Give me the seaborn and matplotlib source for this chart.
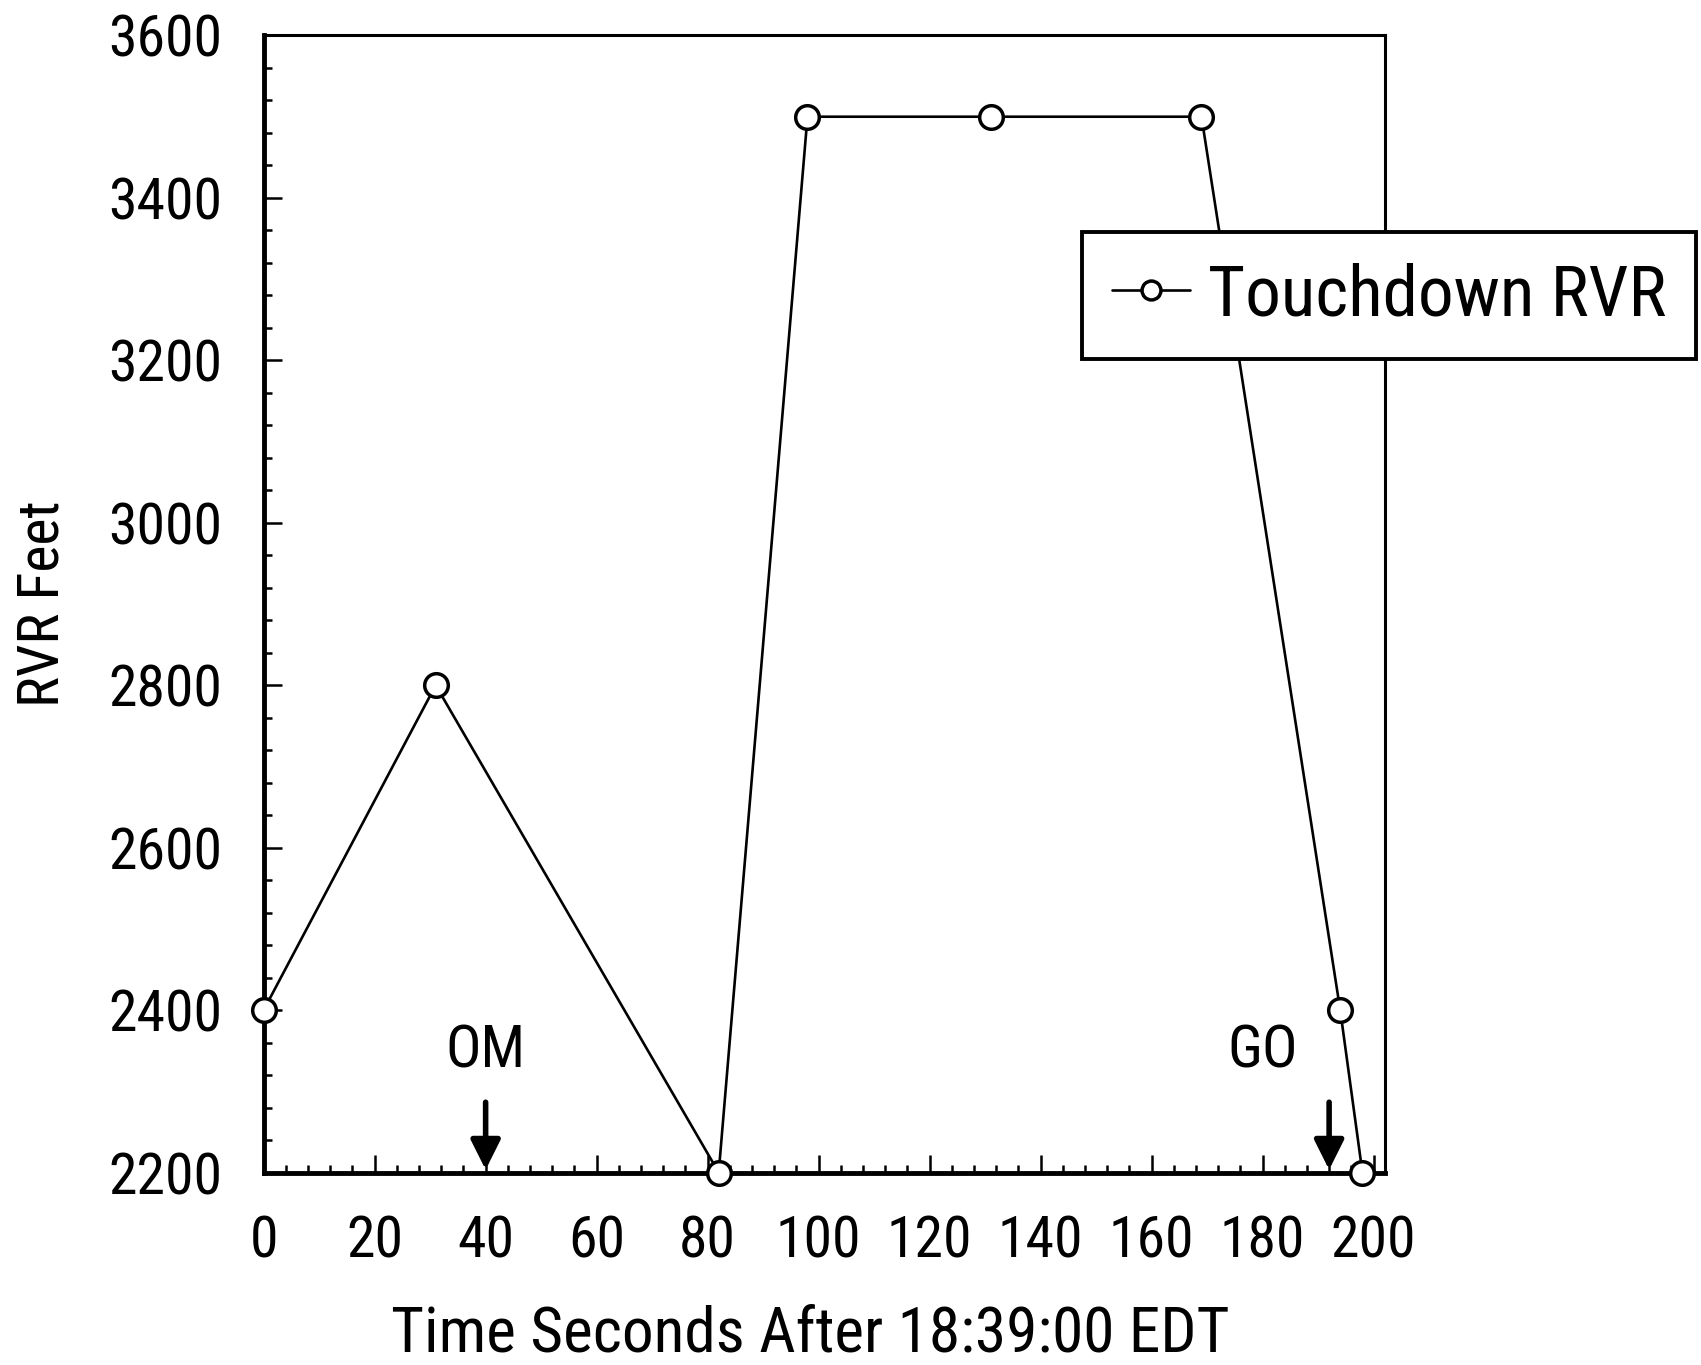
import matplotlib
matplotlib.use('Agg')
import matplotlib.pyplot as plt
import seaborn as sns
import pandas as pd
from matplotlib import font_manager
from matplotlib.font_manager import FontProperties
from matplotlib.textpath import TextPath
from matplotlib.ticker import MultipleLocator

# values
time_s = [0, 31, 82, 98, 131, 169, 194, 198]
rvr_ft = [2400, 2800, 2200, 3500, 3500, 3500, 2400, 2200]
series_name = 'Touchdown RVR'

# event markers along the time axis
event_names = ['OM', 'GO']
event_text_x = [40, 180]
event_arrow_x = [40, 192]

x_title = 'Time Seconds After 18:39:00 EDT'
y_title = 'RVR Feet'


def pick_narrow_font():
    # the original uses a tall, narrow plotter font; take a condensed face if one is there
    wanted = ['Liberation Sans Narrow', 'Roboto Condensed', 'Open Sans Condensed',
              'Noto Sans', 'DejaVu Sans', 'Roboto', 'Open Sans']
    for fam in wanted:
        for f in font_manager.fontManager.ttflist:
            narrow = 'condensed' in str(f.stretch) or 'narrow' in f.fname.lower() \
                or 'condensed' in f.fname.lower()
            if f.name == fam and f.style == 'normal' and narrow:
                return fam, f.stretch
    return 'DejaVu Sans', 'normal'


def fit_size(text, width_px, prop, dpi=100):
    # font size (pt) that makes the text about width_px wide
    w = TextPath((0, 0), text, size=10, prop=prop).get_extents().width
    return 10 * width_px / (w * dpi / 72)


sns.set_theme(style='ticks')
font_name, font_stretch = pick_narrow_font()
plt.rcParams['font.family'] = [font_name, 'DejaVu Sans']
plt.rcParams['font.stretch'] = font_stretch
plt.rcParams['text.color'] = 'black'
plt.rcParams['axes.labelcolor'] = 'black'
prop = FontProperties(family=font_name, stretch=font_stretch)

tick_fs = fit_size('3600', 108, prop)
xlab_fs = fit_size(x_title, 835, prop)
ylab_fs = fit_size(y_title, 200, prop)
leg_fs = fit_size(series_name, 455, prop)
ev_fs = fit_size('OM', 72, prop)

df = pd.DataFrame({'time': time_s, 'rvr': rvr_ft, 'series': series_name})

fig = plt.figure(figsize=(17.01, 13.65), dpi=100)
ax = fig.add_axes([0.155, 0.141, 0.659, 0.833])

sns.lineplot(data=df, x='time', y='rvr', hue='series', palette=['black'],
             marker='o', markersize=17, markerfacecolor='white',
             markeredgecolor='black', markeredgewidth=2.5, linewidth=1.9,
             clip_on=False, ax=ax, zorder=5)

ax.set_xlim(0, 202)
ax.set_ylim(2200, 3600)
ax.xaxis.set_major_locator(MultipleLocator(20))
ax.xaxis.set_minor_locator(MultipleLocator(4))
ax.yaxis.set_major_locator(MultipleLocator(200))
ax.yaxis.set_minor_locator(MultipleLocator(40))
ax.tick_params(which='both', direction='in', colors='black', width=1.8)
ax.tick_params(which='major', length=13, pad=30, labelsize=tick_fs)
ax.tick_params(which='minor', length=6)

for side in ['left', 'bottom']:
    ax.spines[side].set_linewidth(3.5)
for side in ['top', 'right']:
    ax.spines[side].set_linewidth(2.2)
for sp in ax.spines.values():
    sp.set_color('black')

ax.set_xlabel(x_title, fontsize=xlab_fs)
ax.set_ylabel(y_title, fontsize=ylab_fs)
ax.xaxis.set_label_coords(0.488, -0.116)
ax.yaxis.set_label_coords(-0.172, 0.5)

for name, tx, arx in zip(event_names, event_text_x, event_arrow_x):
    ax.text(tx, 2315, name, ha='center', va='bottom', fontsize=ev_fs)
    ax.annotate('', xy=(arx, 2200), xytext=(arx, 2290),
                arrowprops=dict(arrowstyle='-|>', color='black', lw=4,
                                mutation_scale=45))

leg = ax.legend(loc='center', bbox_to_anchor=(0.8165, 0.7835),
                bbox_transform=fig.transFigure, fontsize=leg_fs, frameon=True,
                fancybox=False, handlelength=1.1, handletextpad=0.25,
                borderpad=0.42, borderaxespad=0, markerscale=0.8)
leg.get_frame().set_edgecolor('black')
leg.get_frame().set_linewidth(2.8)
leg.get_frame().set_alpha(1)
leg.set_zorder(10)

fig.savefig('out.png', dpi=100)
